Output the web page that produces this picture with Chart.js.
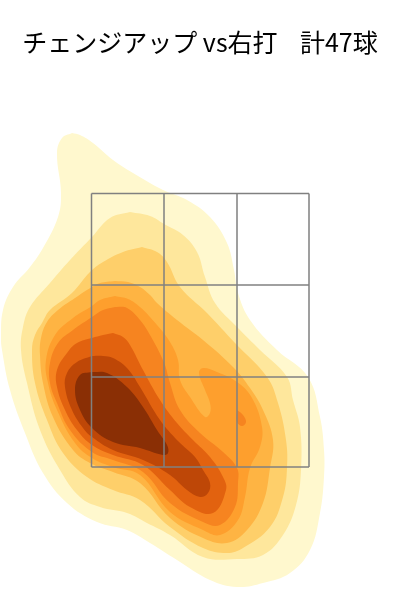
<!DOCTYPE html>
<html>
<head>
<meta charset="utf-8">
<title>チェンジアップ vs右打</title>
<script src="https://cdn.jsdelivr.net/npm/chart.js@4"></script>
<style>
    html, body { margin: 0; padding: 0; background: #fff; }
    canvas { display: block; }
</style>
</head>
<body>
<canvas id="myChart" width="400" height="600"></canvas>
<script>
// density contours, [cm from plate centre, cm above ground]
const level1 = [[-25.6,93.4],[-24,93],[-21.4,91.4],[-17.4,88],[-13.4,85.4],[-7.4,82],[-2.6,80],[2,76.6],[5.4,71.4],[6.8,66],[7.6,61.4],[10,56],[15.4,50],[21.6,44.6],[24,36.6],[24.8,30],[24.8,24.6],[24,17.4],[22,10],[18,5.4],[12.6,3.4],[7.4,2.6],[2,4],[-4.6,8],[-10,11.4],[-14.6,14],[-20.6,15.6],[-26.6,19.4],[-31.4,25.4],[-35,33.4],[-38,42],[-39.6,50],[-39.8,52.6],[-39.4,58],[-37.4,62.6],[-34,66.6],[-31.4,70.4],[-28.4,76.6],[-27.8,81.4],[-28.6,89.4],[-27.6,92.4]]
const level2 = [[-14,77.6],[-10,76.8],[-7.2,75.2],[-3.4,73],[-0.6,69.6],[1,64.6],[3,59.4],[7.4,54.6],[12,50],[17.4,44.6],[18.6,40],[20,34.6],[20.2,26],[19.2,19],[16.6,13],[12.6,9],[7.4,8.2],[0.6,8.6],[-6,13],[-10.6,15.4],[-14.6,17.4],[-20,18.6],[-24,20.6],[-28,26],[-32,34],[-34.6,43.4],[-35.8,50],[-35.4,54.6],[-34,58.6],[-30,63.4],[-26,68],[-21.6,72.6],[-18,76.4]]
const level3 = [[-11.6,70.6],[-8.6,69.6],[-6.6,67.6],[-4,62.6],[1.4,57.4],[7,51.4],[13.4,44.6],[15.6,39.4],[17.2,32],[17.4,26.4],[16.6,20.6],[14,14.6],[8.6,10.4],[5.4,9.4],[0.6,10.4],[-6,14.6],[-12,20],[-17.4,22],[-22.6,24.6],[-27.4,29.4],[-30.6,36],[-33,43.4],[-33.6,50],[-33,53],[-31.6,55.4],[-30,58],[-25.6,61.4],[-22,65.6],[-19.4,67.6],[-15.4,69.6]]
const level4 = [[-17,63.8],[-14.4,63.6],[-12,62.6],[-10,61],[-8.6,59.4],[-4.6,56],[0.6,52],[6.6,46.6],[10,42.4],[12.6,38],[14.6,32],[14,26.4],[12.6,19.4],[9.4,14],[5.4,11.4],[0.6,12.4],[-6,16.4],[-12,23.4],[-17.4,25.6],[-22,27.4],[-25.4,30],[-29.4,36.6],[-31.4,43.4],[-32,49],[-31.8,52.4],[-30.6,55.6],[-28.4,58],[-25,60.4],[-21.6,62.6],[-20,63.4]]
const level5 = [[-17,60.8],[-14.4,60.2],[-12,58.6],[-8.6,55],[-6,51.6],[-4.4,48],[-4,44],[-2,40.6],[1,36.6],[2,37.4],[2,39.4],[1,42],[-0.2,45.4],[0.6,46.4],[3.4,45.6],[7.4,43.6],[10.4,40.4],[12.4,34.6],[12,30.6],[10,26.4],[9,20.6],[7.6,16],[4,13],[0.6,14],[-6,17.6],[-12,25],[-17.4,26.6],[-21.6,28.4],[-25,31.4],[-28.6,38],[-30.4,43.4],[-30.8,48],[-29,53],[-25.4,56.4],[-21.6,58.8],[-20,60]]
const level6 = [[-17,58.6],[-14.6,58.4],[-12,56],[-10,53],[-7.2,47.5],[-6,43.4],[-4,38],[0,33.4],[4.6,29.6],[7.4,26.4],[7.6,23.4],[7,18.6],[4,15],[0.6,15.6],[-6,19.4],[-11.4,25.6],[-17.4,28],[-21.6,29.6],[-26,34],[-28.6,39.4],[-30,43.4],[-30,47.4],[-28.4,51.4],[-25.4,54],[-21.6,56.6],[-19.4,58]]
const level6b = [[7.4,38],[8.6,37],[9.2,35.6],[8.4,34.8],[7.4,35.6]]
const level7 = [[-17.4,53.4],[-15.4,52.6],[-14,51],[-11.4,46],[-8,40],[-4.6,35.4],[-1.4,32],[2,28.6],[4.6,24.6],[5.2,22],[2.6,17.4],[-2,18.6],[-6,22],[-11.4,27],[-17.4,29],[-21.6,31],[-24.6,34],[-27,38],[-28.6,42.6],[-28.6,46],[-26.6,49.4],[-24.6,51.4],[-21.6,52.4],[-19.4,53]]
const level8 = [[-21.6,48.8],[-19.4,48.8],[-17.4,48.4],[-14.6,46.4],[-12,42.6],[-8,36],[-4.4,31.8],[-1,28.6],[0.6,26],[2,23.4],[1.6,21.4],[0,20.6],[-2.6,22],[-6,25],[-11.4,28],[-17.4,30],[-21.6,32.6],[-23.4,34.4],[-25.6,38],[-27,42.6],[-26.6,45.4],[-24.6,47.6]]
const level9 = [[-21.6,45.6],[-18.6,45.4],[-14.6,42.6],[-11.4,38.6],[-8.6,34],[-6.6,31],[-6.4,29.4],[-7.4,29],[-12,30.4],[-17.4,31.6],[-21.6,34.4],[-24,38],[-25,42],[-24,45]]

// strike zone lines
const zoneX = [-21.7, -7.2, 7.4, 21.8]
const zoneY = [81.3, 63, 44.6, 26.6]

const titleText = 'チェンジアップ vs右打    計47球'

// drawn back to front
const contours = [
    [level1, '#fff8ce'],
    [level2, '#fee79c'],
    [level3, '#fecf6a'],
    [level4, '#feb443'],
    [level5, '#fe9f2d'],
    [level6, '#f68420'],
    [level6b, '#f68420'],
    [level7, '#e2620f'],
    [level8, '#be4707'],
    [level9, '#8a2f05'],
]

const contourDatasets = contours.map(c => {
    const pts = c[0].concat([c[0][0]]).map(p => ({ x: p[0], y: p[1] }))
    return {
        data: pts,
        showLine: true,
        isContour: true,
        fillColor: c[1],
        borderColor: 'transparent',
        borderWidth: 0,
        pointRadius: 0,
        tension: 0.4,
        capBezierPoints: false,
    }
}).reverse()

const zoneDatasets = []
zoneX.forEach(x => {
    zoneDatasets.push({ data: [{ x: x, y: zoneY[0] }, { x: x, y: zoneY[3] }] })
})
zoneY.forEach(y => {
    zoneDatasets.push({ data: [{ x: zoneX[0], y: y }, { x: zoneX[3], y: y }] })
})
zoneDatasets.forEach(d => {
    d.showLine = true
    d.borderColor = '#808080'
    d.borderWidth = 1.5
    d.pointRadius = 0
})

// the line element can only stroke a closed shape, so fill its path here
const fillContours = {
    id: 'fillContours',
    beforeDatasetDraw(chart, args) {
        const ds = chart.data.datasets[args.index]
        if (!ds.isContour) return
        const line = args.meta.dataset
        const ctx = chart.ctx
        line.updateControlPoints(chart.chartArea, 'x')
        ctx.save()
        ctx.beginPath()
        line.path(ctx)
        ctx.closePath()
        ctx.fillStyle = ds.fillColor
        ctx.fill()
        ctx.restore()
    }
}

const ctx = document.getElementById('myChart')
const chart = new Chart(ctx, {
    type: 'scatter',
    data: {
        datasets: zoneDatasets.concat(contourDatasets),
    },
    plugins: [fillContours],
    options: {
        responsive: false,
        animation: false,
        layout: { padding: 0 },
        scales: {
            x: { type: 'linear', display: false, min: -40, max: 40 },
            y: { type: 'linear', display: false, min: 0, max: 102 },
        },
        plugins: {
            legend: { display: false },
            tooltip: { enabled: false },
            title: {
                display: true,
                text: titleText,
                color: '#000',
                font: { family: '"Noto Sans CJK JP"', size: 25, weight: 'normal', lineHeight: 1 },
                padding: { top: 30, bottom: 35 },
            },
        },
    },
})
</script>
</body>
</html>
